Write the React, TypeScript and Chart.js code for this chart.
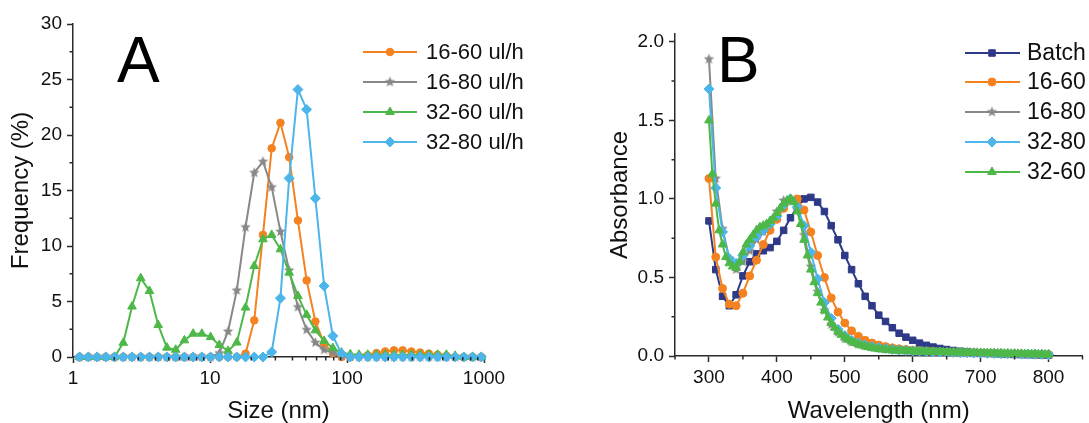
import React, { useEffect, useRef } from 'react';
import { Chart, registerables } from 'chart.js';
import { drawPoint } from 'chart.js/helpers';

Chart.register(...registerables);

const FONT = "'Liberation Sans', Arial, Helvetica, sans-serif";
const AXIS = '#2a2a2a';
const TEXT = '#111111';
const ORANGE = '#F58220';
const GRAY = '#888888';
const GREEN = '#4DB848';
const CYAN = '#4CB5EA';
const NAVY = '#2E3A87';

// ---------------- Panel A : size distribution ----------------
const sizeNm = [1.117, 1.294, 1.499, 1.736, 2.01, 2.328, 2.696, 3.122, 3.615, 4.187, 4.849, 5.615, 6.503, 7.531, 8.721, 10.1, 11.7, 13.54, 15.69, 18.17, 21.04, 24.36, 28.21, 32.67, 37.84, 43.82, 50.75, 58.77, 68.06, 78.82, 91.28, 105.7, 122.4, 141.8, 164.2, 190.1, 220.2, 255.0, 295.3, 342.0, 396.1, 458.7, 531.2, 615.1, 712.4, 825.0, 955.4];
const freq16_60 = [0, 0, 0, 0, 0, 0, 0, 0, 0, 0, 0, 0, 0, 0, 0, 0, 0, 0, 0, 0.3, 3.3, 11.0, 18.8, 21.1, 18.0, 12.3, 6.9, 3.2, 1.2, 0.35, 0, 0, 0.05, 0.15, 0.35, 0.5, 0.6, 0.6, 0.5, 0.4, 0.3, 0.2, 0.1, 0, 0, 0, 0];
const freq16_80 = [0, 0, 0, 0, 0, 0, 0, 0, 0, 0, 0, 0, 0, 0, 0, 0, 0.35, 2.3, 6.0, 11.7, 16.6, 17.6, 15.3, 11.3, 7.8, 4.5, 2.45, 1.3, 0.65, 0.4, 0.1, 0, 0, 0, 0, 0, 0, 0, 0, 0, 0, 0, 0, 0, 0, 0, 0];
const freq32_60 = [0, 0, 0, 0, 0, 1.28, 4.55, 7.1, 5.95, 2.88, 0.84, 0.65, 1.5, 2.1, 2.1, 1.8, 1.08, 0.55, 1.3, 4.45, 8.2, 10.6, 11.0, 9.7, 7.6, 5.5, 3.8, 2.4, 1.45, 0.8, 0.4, 0.25, 0.2, 0.2, 0.2, 0.2, 0.2, 0.2, 0.2, 0.2, 0.2, 0.2, 0.2, 0.1, 0, 0, 0];
const freq32_80 = [0, 0, 0, 0, 0, 0, 0, 0, 0, 0, 0, 0, 0, 0, 0, 0, 0, 0, 0, 0, 0, 0, 0.45, 5.3, 16.1, 24.1, 22.3, 14.3, 6.4, 1.9, 0.3, 0, 0, 0, 0, 0, 0, 0, 0, 0, 0, 0, 0, 0, 0, 0, 0];
const sizeTicks = [1, 10, 100, 1000];
const sizeMinorTicks = [2, 3, 4, 5, 6, 7, 8, 9, 20, 30, 40, 50, 60, 70, 80, 90, 200, 300, 400, 500, 600, 700, 800, 900];
const freqTicks = [0, 5, 10, 15, 20, 25, 30];
const freqMinorTicks = [2.5, 7.5, 12.5, 17.5, 22.5, 27.5];
const legendA = ['16-60 ul/h', '16-80 ul/h', '32-60 ul/h', '32-80 ul/h'];

// ---------------- Panel B : absorbance spectra ----------------
const wl10 = [300, 310, 320, 330, 340, 350, 360, 370, 380, 390, 400, 410, 420, 430, 440, 450, 460, 470, 480, 490, 500, 510, 520, 530, 540, 550, 560, 570, 580, 590, 600, 610, 620, 630, 640, 650, 660, 670, 680, 690, 700, 710, 720, 730, 740, 750, 760, 770, 780, 790, 800];
const wl5 = [300, 305, 310, 315, 320, 325, 330, 335, 340, 345, 350, 355, 360, 365, 370, 375, 380, 385, 390, 395, 400, 405, 410, 415, 420, 425, 430, 435, 440, 445, 450, 455, 460, 465, 470, 475, 480, 485, 490, 495, 500, 505, 510, 515, 520, 525, 530, 535, 540, 545, 550, 555, 560, 565, 570, 575, 580, 585, 590, 595, 600, 605, 610, 615, 620, 625, 630, 635, 640, 645, 650, 655, 660, 665, 670, 675, 680, 685, 690, 695, 700, 705, 710, 715, 720, 725, 730, 735, 740, 745, 750, 755, 760, 765, 770, 775, 780, 785, 790, 795, 800];
const absBatch = [0.86, 0.55, 0.38, 0.32, 0.39, 0.51, 0.60, 0.65, 0.67, 0.69, 0.73, 0.80, 0.88, 0.95, 1.00, 1.01, 0.98, 0.92, 0.83, 0.74, 0.64, 0.55, 0.46, 0.38, 0.32, 0.26, 0.22, 0.18, 0.145, 0.12, 0.10, 0.082, 0.068, 0.057, 0.048, 0.041, 0.035, 0.030, 0.026, 0.022, 0.019, 0.017, 0.015, 0.013, 0.011, 0.010, 0.009, 0.008, 0.007, 0.006, 0.005];
const abs16_60 = [1.13, 0.63, 0.43, 0.33, 0.32, 0.40, 0.51, 0.61, 0.71, 0.80, 0.87, 0.94, 0.99, 1.00, 0.93, 0.79, 0.64, 0.50, 0.37, 0.28, 0.21, 0.16, 0.125, 0.10, 0.083, 0.07, 0.06, 0.052, 0.046, 0.041, 0.037, 0.034, 0.031, 0.029, 0.027, 0.025, 0.023, 0.022, 0.021, 0.020, 0.019, 0.018, 0.017, 0.016, 0.015, 0.014, 0.013, 0.012, 0.011, 0.010, 0.010];
const abs16_80 = [1.89, 1.13, 0.81, 0.62, 0.55, 0.60, 0.67, 0.74, 0.79, 0.85, 0.92, 0.99, 1.00, 0.93, 0.77, 0.57, 0.41, 0.29, 0.20, 0.15, 0.11, 0.09, 0.075, 0.065, 0.057, 0.05, 0.045, 0.041, 0.037, 0.034, 0.031, 0.029, 0.027, 0.025, 0.024, 0.023, 0.022, 0.021, 0.020, 0.019, 0.018, 0.017, 0.016, 0.015, 0.014, 0.013, 0.012, 0.012, 0.011, 0.010, 0.010];
const abs32_80 = [1.70, 1.07, 0.79, 0.62, 0.59, 0.64, 0.70, 0.76, 0.80, 0.84, 0.89, 0.96, 1.00, 0.95, 0.83, 0.66, 0.49, 0.34, 0.24, 0.17, 0.13, 0.10, 0.083, 0.07, 0.06, 0.053, 0.047, 0.042, 0.038, 0.035, 0.032, 0.030, 0.028, 0.026, 0.025, 0.024, 0.022, 0.021, 0.020, 0.019, 0.018, 0.017, 0.016, 0.015, 0.014, 0.013, 0.012, 0.012, 0.011, 0.010, 0.010];
const abs32_60 = [1.50, 1.16, 0.97, 0.80, 0.71, 0.63, 0.59, 0.57, 0.56, 0.60, 0.66, 0.71, 0.74, 0.77, 0.80, 0.82, 0.83, 0.84, 0.86, 0.88, 0.91, 0.94, 0.97, 0.99, 1.00, 0.98, 0.92, 0.84, 0.74, 0.64, 0.55, 0.47, 0.40, 0.34, 0.29, 0.245, 0.21, 0.18, 0.155, 0.135, 0.118, 0.104, 0.092, 0.082, 0.074, 0.067, 0.061, 0.056, 0.052, 0.048, 0.045, 0.042, 0.040, 0.038, 0.036, 0.035, 0.034, 0.033, 0.032, 0.031, 0.030, 0.029, 0.029, 0.028, 0.027, 0.027, 0.026, 0.026, 0.025, 0.025, 0.024, 0.024, 0.023, 0.023, 0.022, 0.022, 0.021, 0.021, 0.020, 0.020, 0.019, 0.019, 0.018, 0.018, 0.017, 0.017, 0.016, 0.016, 0.015, 0.015, 0.014, 0.014, 0.013, 0.013, 0.012, 0.012, 0.011, 0.011, 0.010, 0.010, 0.010];
const wlTicks = [300, 400, 500, 600, 700, 800];
const wlMinorTicks = [250, 350, 450, 550, 650, 750, 850];
const absTicks = [0, 0.5, 1.0, 1.5, 2.0];
const absMinorTicks = [0.25, 0.75, 1.25, 1.75];
const legendB = ['Batch', '16-60', '16-80', '32-80', '32-60'];

function makeStar(color: string, R: number): HTMLCanvasElement {
  const size = Math.ceil(R * 2) + 2;
  const c = document.createElement('canvas');
  c.width = size;
  c.height = size;
  const g = c.getContext('2d')!;
  g.fillStyle = color;
  g.beginPath();
  for (let i = 0; i < 10; i++) {
    const r = i % 2 === 0 ? R : R * 0.45;
    const a = -Math.PI / 2 + (i * Math.PI) / 5;
    const x = size / 2 + r * Math.cos(a);
    const y = size / 2 + r * Math.sin(a);
    if (i === 0) g.moveTo(x, y);
    else g.lineTo(x, y);
  }
  g.closePath();
  g.fill();
  return c;
}

function zip(xs: number[], ys: number[]) {
  return ys.map((y, i) => ({ x: xs[i], y }));
}

type Decor = {
  letter: string;
  letterX: number;
  letterY: number;
  xMinor: number[];
  yMinor: number[];
  legend: { labels: string[]; order: number[]; x1: number; x2: number; xm: number; xt: number; ys: number[]; size: number };
};

function makeDecor(d: Decor) {
  return {
    id: 'decor' + d.letter,
    afterDatasetsDraw(chart: any) {
      const ctx: CanvasRenderingContext2D = chart.ctx;
      const area = chart.chartArea;
      const xs = chart.scales.x;
      const ys = chart.scales.y;
      ctx.save();
      ctx.strokeStyle = AXIS;
      ctx.lineWidth = 1.5;
      ctx.beginPath();
      for (const v of d.xMinor) {
        const px = xs.getPixelForValue(v);
        ctx.moveTo(px, area.bottom);
        ctx.lineTo(px, area.bottom + 3.5);
      }
      for (const v of d.yMinor) {
        const py = ys.getPixelForValue(v);
        ctx.moveTo(area.left - 3.5, py);
        ctx.lineTo(area.left, py);
      }
      ctx.stroke();

      ctx.fillStyle = '#000';
      ctx.font = `64px ${FONT}`;
      ctx.textBaseline = 'alphabetic';
      ctx.textAlign = 'left';
      ctx.fillText(d.letter, d.letterX, d.letterY);

      const L = d.legend;
      L.order.forEach((di, k) => {
        const ds = chart.data.datasets[di];
        const y = L.ys[k];
        ctx.strokeStyle = ds.borderColor;
        ctx.lineWidth = 2;
        ctx.beginPath();
        ctx.moveTo(L.x1, y);
        ctx.lineTo(L.x2, y);
        ctx.stroke();
        ctx.fillStyle = ds.pointBackgroundColor;
        ctx.strokeStyle = ds.pointBorderColor;
        ctx.lineWidth = 1;
        drawPoint(ctx, { pointStyle: ds.pointStyle, radius: ds.pointRadius, rotation: 0, borderWidth: 1 } as any, L.xm, y);
        ctx.fillStyle = TEXT;
        ctx.font = `${L.size}px ${FONT}`;
        ctx.textBaseline = 'middle';
        ctx.fillText(L.labels[k], L.xt, y + 1);
      });
      ctx.restore();
    },
  };
}

function series(label: string, data: any[], color: string, style: any, radius: number, order: number) {
  return {
    label,
    data,
    borderColor: color,
    backgroundColor: color,
    pointBackgroundColor: color,
    pointBorderColor: color,
    pointBorderWidth: 1,
    pointStyle: style,
    pointRadius: radius,
    borderWidth: 2,
    tension: 0,
    clip: false as any,
    order,
  };
}

const tickFont = { family: FONT, size: 19 };
const titleFont = { family: FONT, size: 24, lineHeight: 1 };

function axisCommon() {
  return {
    grid: { display: true, drawOnChartArea: false, drawTicks: true, tickLength: 6, tickColor: AXIS, tickWidth: 1.5 },
    border: { display: true, color: AXIS, width: 1.5 },
  };
}

export default function App() {
  const refA = useRef<HTMLCanvasElement>(null);
  const refB = useRef<HTMLCanvasElement>(null);

  useEffect(() => {
    const star = makeStar(GRAY, 5.5);

    const chartA = new Chart(refA.current!, {
      type: 'line',
      data: {
        datasets: [
          series(legendA[0], zip(sizeNm, freq16_60), ORANGE, 'circle', 3.8, 3),
          series(legendA[1], zip(sizeNm, freq16_80), GRAY, star, 5.5, 2),
          series(legendA[2], zip(sizeNm, freq32_60), GREEN, 'triangle', 5, 1),
          series(legendA[3], zip(sizeNm, freq32_80), CYAN, 'rectRot', 5, 0),
        ],
      },
      options: {
        responsive: false,
        animation: false,
        events: [],
        layout: { padding: { left: 0, top: 24, right: 61, bottom: 0 } },
        plugins: { legend: { display: false }, tooltip: { enabled: false } },
        scales: {
          x: {
            type: 'logarithmic',
            min: 1,
            max: 1000,
            ...axisCommon(),
            afterBuildTicks: (s: any) => { s.ticks = sizeTicks.map((v) => ({ value: v })); },
            afterFit: (s: any) => { s.height = 66; },
            ticks: { font: tickFont, color: TEXT, padding: 4, maxRotation: 0, autoSkip: false, callback: (v: any) => String(v) },
            title: { display: true, text: 'Size (nm)', font: titleFont, color: TEXT, padding: { top: 0, bottom: 0 } },
          },
          y: {
            type: 'linear',
            min: 0,
            max: 30,
            ...axisCommon(),
            afterBuildTicks: (s: any) => { s.ticks = freqTicks.map((v) => ({ value: v })); },
            afterFit: (s: any) => { s.width = 73; },
            ticks: { font: tickFont, color: TEXT, padding: 5, autoSkip: false, callback: (v: any) => String(v) },
            title: { display: true, text: 'Frequency (%)', font: titleFont, color: TEXT, padding: { top: 9, bottom: 0 } },
          },
        },
      } as any,
      plugins: [
        makeDecor({
          letter: 'A',
          letterX: 117,
          letterY: 82,
          xMinor: sizeMinorTicks,
          yMinor: freqMinorTicks,
          legend: { labels: legendA, order: [0, 1, 2, 3], x1: 363, x2: 417, xm: 390, xt: 426, ys: [52, 82, 112, 142], size: 22 },
        }),
      ],
    });

    const chartB = new Chart(refB.current!, {
      type: 'line',
      data: {
        datasets: [
          series(legendB[0], zip(wl10, absBatch), NAVY, 'rect', 4.6, 4),
          series(legendB[1], zip(wl10, abs16_60), ORANGE, 'circle', 4, 3),
          series(legendB[2], zip(wl10, abs16_80), GRAY, star, 5.5, 2),
          series(legendB[3], zip(wl10, abs32_80), CYAN, 'rectRot', 5, 1),
          series(legendB[4], zip(wl5, abs32_60), GREEN, 'triangle', 5, 0),
        ],
      },
      options: {
        responsive: false,
        animation: false,
        events: [],
        layout: { padding: { left: 0, top: 34, right: 6, bottom: 0 } },
        plugins: { legend: { display: false }, tooltip: { enabled: false } },
        scales: {
          x: {
            type: 'linear',
            min: 250,
            max: 850,
            ...axisCommon(),
            afterBuildTicks: (s: any) => { s.ticks = wlTicks.map((v) => ({ value: v })); },
            afterFit: (s: any) => { s.height = 67; },
            ticks: { font: tickFont, color: TEXT, padding: 4, maxRotation: 0, autoSkip: false, callback: (v: any) => String(v) },
            title: { display: true, text: 'Wavelength (nm)', font: titleFont, color: TEXT, padding: { top: 0, bottom: 0 } },
          },
          y: {
            type: 'linear',
            min: 0,
            max: 2.05,
            ...axisCommon(),
            afterBuildTicks: (s: any) => { s.ticks = absTicks.map((v) => ({ value: v })); },
            afterFit: (s: any) => { s.width = 130; },
            ticks: { font: tickFont, color: TEXT, padding: 5, autoSkip: false, callback: (v: any) => Number(v).toFixed(1) },
            title: { display: true, text: 'Absorbance', font: titleFont, color: TEXT, padding: { top: 63, bottom: 0 } },
          },
        },
      } as any,
      plugins: [
        makeDecor({
          letter: 'B',
          letterX: 172,
          letterY: 82,
          xMinor: wlMinorTicks,
          yMinor: absMinorTicks,
          legend: { labels: legendB, order: [0, 1, 2, 3, 4], x1: 420, x2: 475, xm: 447, xt: 482, ys: [53, 82, 112, 142, 172], size: 23 },
        }),
      ],
    });

    return () => {
      chartA.destroy();
      chartB.destroy();
    };
  }, []);

  return (
    <div style={{ position: 'absolute', left: 0, top: 0, width: 1089, height: 423, background: '#fff', overflow: 'hidden' }}>
      <canvas ref={refA} width={545} height={423} style={{ position: 'absolute', left: 0, top: 0 }} />
      <canvas ref={refB} width={544} height={423} style={{ position: 'absolute', left: 545, top: 0 }} />
    </div>
  );
}
